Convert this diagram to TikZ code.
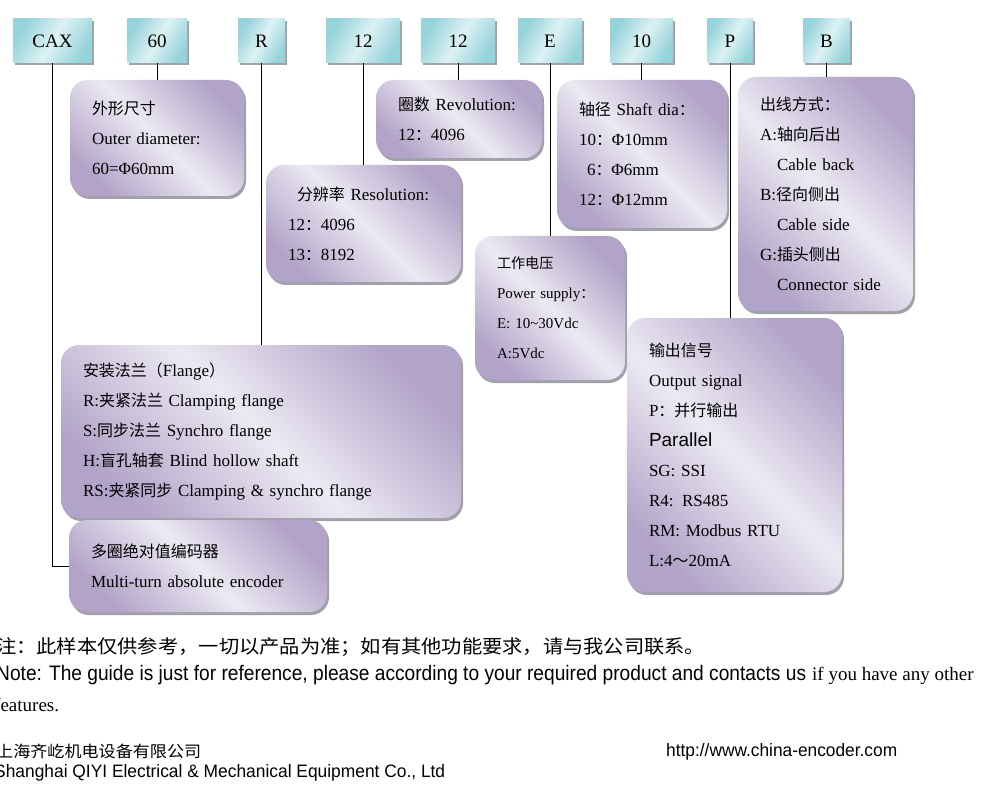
\documentclass[tikz,border=0pt]{standalone}
\usepackage{fontspec}
\usepackage{graphicx}
\setmainfont{Liberation Serif}
\newfontfamily\cjk{Noto Sans CJK SC}[Scale=0.94]
\newfontfamily\footsans{Liberation Sans}
\usetikzlibrary{shadows}

\definecolor{lavlight}{HTML}{ECE9F3}
\definecolor{lavdark}{HTML}{B2A4C8}
\definecolor{teallight}{HTML}{DDF2F4}
\definecolor{tealdark}{HTML}{96D3DA}
\definecolor{shadowgray}{HTML}{8A8A94}

% squeeze a line of text to a given width
\newcommand{\fitw}[2]{\resizebox{#1}{\height}{#2}}

\begin{document}
\begin{tikzpicture}[x=1pt, y=-1pt,
        codebox/.style={rectangle, minimum height=44pt, inner sep=0pt, left color=tealdark, right color=tealdark, middle color=teallight, shading angle=60, drop shadow={shadow xshift=2pt, shadow yshift=-2pt, fill=shadowgray, opacity=0.8}, font=\fontsize{19}{22}\selectfont},
        descbox/.style={rectangle, rounded corners=18pt, left color=lavdark, right color=lavdark, middle color=lavlight, shading angle=135, drop shadow={shadow xshift=2pt, shadow yshift=-3pt, fill=shadowgray, opacity=0.8}, align=left, inner xsep=22pt, inner ysep=4pt, font=\fontsize{17}{30}\selectfont},
        link/.style={draw=black, line width=1pt}
    ]

    \fill[white] (0,0) rectangle (1000,791);
    \useasboundingbox (0,0) rectangle (1000,791);

    % Code boxes
    \node[codebox, minimum width=79pt] (cax) at (52.5,41) {CAX};
    \node[codebox, minimum width=60pt] (c60) at (157,41) {60};
    \node[codebox, minimum width=47pt] (cR) at (261.5,41) {R};
    \node[codebox, minimum width=74pt] (cres) at (363,41) {12};
    \node[codebox, minimum width=74pt] (crev) at (458,41) {12};
    \node[codebox, minimum width=64pt] (cE) at (550,41) {E};
    \node[codebox, minimum width=63pt] (cshaft) at (641.5,41) {10};
    \node[codebox, minimum width=46pt] (cP) at (730,41) {P};
    \node[codebox, minimum width=47pt] (cB) at (826.5,41) {B};

    % Description boxes
    \node[descbox, text width=130pt, minimum height=116pt] (outer) at (157,138)
        {{\cjk 外形尺寸}\\Outer diameter:\\60=Φ60mm};
    \node[descbox, text width=122pt, minimum height=78pt] (rev) at (459,119)
        {{\cjk 圈数} Revolution:\\12{\cjk ：}4096};
    \node[descbox, text width=151pt, minimum height=117pt] (res) at (363.5,223.5)
        {\hspace*{9pt}{\cjk 分辨率} Resolution:\\12{\cjk ：}4096\\13{\cjk ：}8192};
    \node[descbox, text width=126pt, minimum height=148pt] (shaft) at (642,154)
        {{\cjk 轴径} Shaft dia{\cjk ：}\\10{\cjk ：}Φ10mm\\\hspace*{8pt}6{\cjk ：}Φ6mm\\12{\cjk ：}Φ12mm};
    \node[descbox, text width=131pt, minimum height=234pt] (cable) at (825.5,194)
        {{\cjk 出线方式：}\\A:{\cjk 轴向后出}\\\hspace*{17pt}Cable back\\B:{\cjk 径向侧出}\\\hspace*{17pt}Cable side\\G:{\cjk 插头侧出}\\\hspace*{17pt}Connector side};
    \node[descbox, text width=106pt, minimum height=144pt, font=\fontsize{15}{30}\selectfont] (power) at (550,308)
        {{\cjk 工作电压}\\Power supply{\cjk ：}\\E: 10\textasciitilde 30Vdc\\A:5Vdc};
    \node[descbox, text width=171pt, minimum height=274pt] (output) at (734.5,455)
        {{\cjk 输出信号}\\Output signal\\P{\cjk ：并行输出}\\{\footsans\fontsize{19}{30}\selectfont Parallel}\\SG: SSI\\R4: RS485\\RM: Modbus RTU\\L:4{\cjk ～}20mA};
    \node[descbox, text width=356pt, minimum height=173pt] (flange) at (261,431.5)
        {{\cjk 安装法兰（}Flange{\cjk ）}\\R:{\cjk 夹紧法兰} Clamping flange\\S:{\cjk 同步法兰} Synchro flange\\H:{\cjk 盲孔轴套} Blind hollow shaft\\RS:{\cjk 夹紧同步} Clamping \& synchro flange};
    \node[descbox, text width=214pt, minimum height=92pt] (encoder) at (198,566)
        {{\cjk 多圈绝对值编码器}\\Multi-turn absolute encoder};

    % Connectors
    \draw[link] (cax.south) |- (encoder.west);
    \draw[link] (c60.south) -- (c60.south |- outer.north);
    \draw[link] (cR.south) -- (cR.south |- flange.north);
    \draw[link] (cres.south) -- (cres.south |- res.north);
    \draw[link] (crev.south) -- (crev.south |- rev.north);
    \draw[link] (cE.south) -- (cE.south |- power.north);
    \draw[link] (cshaft.south) -- (cshaft.south |- shaft.north);
    \draw[link] (cP.south) -- (cP.south |- output.north);
    \draw[link] (cB.south) -- (cB.south |- cable.north);

    % Footer
    \node[anchor=west, inner sep=0pt, font=\cjk\fontsize{20}{24}\selectfont] (notecn) at (-4,647)
        {\fitw{709pt}{注：此样本仅供参考，一切以产品为准；如有其他功能要求，请与我公司联系。}};
    \node[anchor=west, inner sep=0pt, font=\fontsize{19}{24}\selectfont] (noteen) at (-4,675)
        {\fitw{810pt}{\footsans\fontsize{21}{24}\selectfont Note: The guide is just for reference, please according to your required product and contacts us}\hspace{6pt}if you have any other};
    \node[anchor=west, inner sep=0pt, font=\fontsize{19}{24}\selectfont] (notemore) at (-6,705) {features.};
    \node[anchor=west, inner sep=0pt, font=\cjk\fontsize{17}{20}\selectfont] (companycn) at (-4,751)
        {\fitw{205pt}{上海齐屹机电设备有限公司}};
    \node[anchor=west, inner sep=0pt, font=\footsans\fontsize{18}{20}\selectfont] (companyen) at (-6,773)
        {\fitw{451pt}{Shanghai QIYI Electrical \& Mechanical Equipment Co., Ltd}};
    \node[anchor=west, inner sep=0pt, font=\footsans\fontsize{18}{20}\selectfont] (url) at (666,752)
        {\fitw{231pt}{http://www.china-encoder.com}};

\end{tikzpicture}
\end{document}
